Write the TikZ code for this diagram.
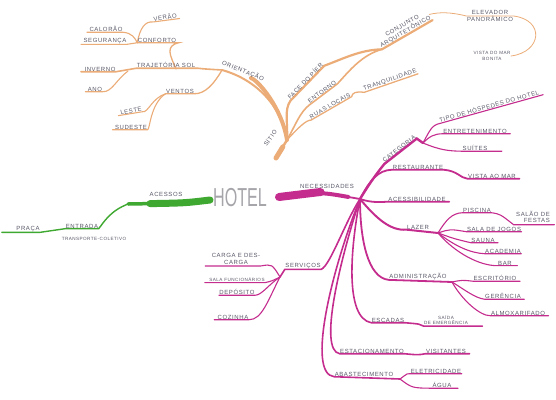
\documentclass[tikz,border=0pt]{standalone}
\usepackage{fontspec}
\setmainfont{Liberation Sans}
\newfontfamily\handf[LetterSpace=10]{Liberation Sans}
\definecolor{ora}{RGB}{235,172,120}
\definecolor{grn}{RGB}{62,168,48}
\definecolor{pnk}{RGB}{196,44,142}
\definecolor{ink}{RGB}{88,88,104}
\definecolor{hot}{RGB}{165,165,170}
\pgfdeclarelayer{bg}
\pgfsetlayers{bg,main}
\begin{document}
\begin{tikzpicture}[x=1pt,y=-1pt,
  lbl/.style={font=\handf\fontsize{6}{6.6}\selectfont, text=ink, inner sep=0.4pt, align=center},
  lbls/.style={font=\handf\fontsize{4.6}{5.2}\selectfont, text=ink, inner sep=0.4pt, align=center},
  ob/.style={draw=ora, line width=#1, line cap=round}, ob/.default=1.1,
  gb/.style={draw=grn, line width=#1, line cap=round}, gb/.default=1.2,
  pb/.style={draw=pnk, line width=#1, line cap=round}, pb/.default=1.1]
\useasboundingbox (0,0) rectangle (556,399);

% ---------- centre
\node[font=\fontsize{26}{26}\selectfont, text=hot, xscale=0.62, inner sep=0pt] (hotel) at (240,198) {HOTEL};

% ---------- orange (top)
\coordinate (ostart) at (276,158);
\coordinate (oj) at (287,140);
\coordinate (orj) at (222,70);
\coordinate (cfj) at (176,69);
\coordinate (anj) at (128,71);
\node[lbl,rotate=55] (sitio) at (270,138) {SÍTIO};
\node[lbl,rotate=-22] (ori) at (243,71) {ORIENTAÇÃO};
\node[lbl] (sol) at (166,65) {TRAJETÓRIA SOL};
\node[lbl] (inv) at (100,69) {INVERNO};
\node[lbl] (ano) at (95,89) {ANO};
\node[lbl] (conf) at (157,40) {CONFORTO};
\node[lbl] (calor) at (106,29) {CALORÃO};
\node[lbl] (seg) at (105,41) {SEGURANÇA};
\node[lbl,rotate=8] (verao) at (165,17) {VERÃO};
\node[lbl] (vent) at (180,91) {VENTOS};
\node[lbl,rotate=10] (leste) at (131,111) {LESTE};
\node[lbl] (sud) at (131,127) {SUDESTE};
\node[lbl,rotate=46] (face) at (305,81) {FACE DO PÍER};
\node[lbl,rotate=37] (ent) at (322,92) {ENTORNO};
\node[lbl,rotate=30] (ruas) at (330,106) {RUAS LOCAIS};
\node[lbl,rotate=19] (tranq) at (390,80) {TRANQUILIDADE};
\node[lbl,rotate=30] (arq) at (404,29) {CONJUNTO\\ARQUITETÔNICO};
\node[lbl] (elev) at (490,16) {ELEVADOR\\PANORÂMICO};
\node[lbls] (vista) at (492,56) {VISTA DO MAR\\BONITA};

% ---------- green (left)
\coordinate (gj) at (128,204);
\node[lbl] (aces) at (166,194) {ACESSOS};
\node[lbl] (entr) at (82,226) {ENTRADA};
\node[lbl] (praca) at (28,229) {PRAÇA};
\node[lbls] (transp) at (94,239) {TRANSPORTE-COLETIVO};

% ---------- pink (right)
\coordinate (pstart) at (279,197);
\coordinate (pj) at (360,199);
\coordinate (cj) at (423,143);
\coordinate (lj) at (438,233);
\coordinate (aj) at (452,282);
\coordinate (sj) at (280,277);
\coordinate (bj) at (400,379);
\node[lbl] (nec) at (327,186) {NECESSIDADES};
\node[lbl,rotate=38] (cat) at (399,149) {CATEGORIA};
\node[lbl,rotate=16] (tipo) at (489,106) {TIPO DE HÓSPEDES DO HOTEL};
\node[lbl] (entret) at (475,131) {ENTRETENIMENTO};
\node[lbl] (suites) at (475,148) {SUÍTES};
\node[lbl] (rest) at (418,167) {RESTAURANTE};
\node[lbl] (mar) at (492,176) {VISTA AO MAR};
\node[lbl] (acess) at (417,199) {ACESSIBILIDADE};
\node[lbl] (lazer) at (418,227) {LAZER};
\node[lbl] (pisc) at (477,210) {PISCINA};
\node[lbl, align=right] (salao) at (533,217) {SALÃO DE\\FESTAS};
\node[lbl] (sala) at (494,229) {SALA DE JOGOS};
\node[lbl] (sauna) at (483,240) {SAUNA};
\node[lbl] (acad) at (503,251) {ACADEMIA};
\node[lbl] (bar) at (505,263) {BAR};
\node[lbl] (adm) at (418,276) {ADMINISTRAÇÃO};
\node[lbl] (escr) at (495,278) {ESCRITÓRIO};
\node[lbl] (ger) at (503,296) {GERÊNCIA};
\node[lbl] (alm) at (518,313) {ALMOXARIFADO};
\node[lbl] (esc) at (388,320) {ESCADAS};
\node[lbls] (saida) at (446,320) {SAÍDA\\DE EMERGÊNCIA};
\node[lbl] (serv) at (303,266) {SERVIÇOS};
\node[lbl] (carga) at (236,259) {CARGA E DES-\\CARGA};
\node[lbls] (sfunc) at (237,280) {SALA FUNCIONÁRIOS};
\node[lbl] (dep) at (237,292) {DEPÓSITO};
\node[lbl] (coz) at (233,317) {COZINHA};
\node[lbl] (estac) at (372,351) {ESTACIONAMENTO};
\node[lbl] (visit) at (446,351) {VISITANTES};
\node[lbl] (abast) at (364,374) {ABASTECIMENTO};
\node[lbl] (elet) at (436,371) {ELETRICIDADE};
\node[lbl] (agua) at (442,385) {ÁGUA};

\begin{pgfonlayer}{bg}
% orange connectors
\draw[ob=5, shorten >=8pt] (ostart) -- (oj);
\draw[ob=2.5] (ostart) -- (oj);
\draw[ob=4, shorten >=30pt] (oj) .. controls (282,108) and (258,80) .. (orj);
\draw[ob=2] (oj) .. controls (282,108) and (258,80) .. (orj);
\draw[ob=1.6] (orj) .. controls (205,69) .. ([xshift=2pt]sol.south east) -- (sol.south west) -- (inv.south east) -- ([xshift=-3pt]inv.south west);
\draw[ob=1.3] (cfj) .. controls (170,55) and (165,46) .. ([xshift=2pt]conf.south east) -- (conf.south west);
\draw[ob] (conf.south west) .. controls (135,38) and (132,33) .. (calor.south east) -- ([xshift=-2pt]calor.south west);
\draw[ob] (conf.south west) -- (seg.south east) -- ([xshift=-2pt]seg.south west);
\draw[ob] (conf.south west) .. controls (140,28) and (145,21) .. (verao.south west) -- ([xshift=2pt]verao.south east);
\draw[ob] (anj) .. controls (116,80) and (112,92) .. (ano.south east) -- ([xshift=-2pt]ano.south west);
\draw[ob=1.3] (orj) .. controls (214,84) and (205,94) .. (vent.south east) -- (vent.south west);
\draw[ob] (vent.south west) .. controls (152,98) and (148,113) .. (leste.south east) -- ([xshift=-2pt]leste.south west);
\draw[ob] (vent.south west) .. controls (150,104) and (150,130) .. (sud.south east) -- ([xshift=-2pt]sud.south west);
\draw[ob=2.2] (oj) .. controls (288,122) and (284,110) .. (face.south west) -- (face.south east) .. controls (345,58) and (360,50) .. (arq.south west) -- (arq.south east);
\draw[ob=1.6] (oj) .. controls (296,124) and (300,112) .. (ent.south west) -- (ent.south east) .. controls (350,70) and (362,55) .. (arq.south west);
\draw[ob=1.3] (oj) .. controls (298,128) and (306,120) .. (ruas.south west) -- (ruas.south east) .. controls (352,93) and (356,91) .. (tranq.south west) -- (tranq.south east);
\draw[ob=0.8] (arq.east) .. controls (440,12) and (450,12) .. (elev.west) -- (elev.east) .. controls (545,20) and (542,52) .. (vista.east);
% green connectors
\draw[gb=7, shorten >=22pt] ([xshift=-3pt,yshift=-2pt]hotel.west) .. controls (185,203) .. (gj);
\draw[gb=3.5] ([xshift=-3pt,yshift=-2pt]hotel.west) .. controls (185,203) .. (gj);
\draw[gb=1.4] (gj) .. controls (110,211) and (104,222) .. (entr.south east) -- (entr.south west) .. controls (52,231) .. (praca.south east) -- ([xshift=-14pt]praca.south west);
% pink connectors
\draw[pb=8, shorten >=40pt] (pstart) .. controls (320,192) .. (pj);
\draw[pb=4, shorten >=12pt] (pstart) .. controls (320,192) .. (pj);
\draw[pb=1.8] (pstart) .. controls (320,192) .. (pj);
\draw[pb=2.4] (pj) .. controls (368,186) and (376,174) .. (cat.south west) -- (cat.south east) -- (cj);
\draw[pb] (cj) .. controls (430,130) and (432,125) .. (tipo.south west) -- ([xshift=3pt]tipo.south east);
\draw[pb] (cj) .. controls (430,136) and (434,134) .. (entret.south west) -- ([xshift=3pt]entret.south east);
\draw[pb] (cj) .. controls (440,150) and (448,151) .. (suites.south west) -- ([xshift=14pt]suites.south east);
\draw[pb=1.8] (pj) .. controls (370,180) and (378,170) .. (rest.south west) -- (rest.south east) .. controls (458,171) and (460,178) .. (mar.south west) -- ([xshift=3pt]mar.south east);
\draw[pb=1.8] (pj) .. controls (372,203) and (380,202) .. (acess.south west) -- ([xshift=3pt]acess.south east);
\draw[pb=2] (pj) .. controls (376,218) and (390,231) .. (lazer.south west) -- (lj);
\draw[pb] (lj) .. controls (446,220) and (452,213) .. (pisc.south west) -- (pisc.south east) .. controls (500,214) .. ([yshift=-1.8pt,xshift=-2pt]salao.base west) -- ([yshift=-1.8pt,xshift=4pt]salao.base east);
\draw[pb] (lj) .. controls (450,229) .. (sala.south west) -- (sala.south east);
\draw[pb] (lj) .. controls (455,239) .. (sauna.south west) -- ([xshift=3pt]sauna.south east);
\draw[pb] (lj) .. controls (455,246) and (470,253) .. (acad.south west) -- (acad.south east);
\draw[pb] (lj) .. controls (455,253) and (480,266) .. (bar.south west) -- ([xshift=5pt]bar.south east);
\draw[pb=1.8] (pj) .. controls (360,240) and (368,278) .. (adm.south west) -- (aj);
\draw[pb] (aj) .. controls (462,280) .. (escr.south west) -- ([xshift=3pt]escr.south east);
\draw[pb] (aj) .. controls (465,290) and (475,298) .. (ger.south west) -- ([xshift=3pt]ger.south east);
\draw[pb] (aj) .. controls (462,300) and (480,316) .. (alm.south west) -- ([xshift=3pt]alm.south east);
\draw[pb=1.6] (pj) .. controls (350,250) and (345,318) .. (esc.south west) -- (esc.south east) .. controls (420,324) .. ([yshift=-1.5pt]saida.base west) -- ([yshift=-1.5pt,xshift=14pt]saida.base east);
\draw[pb=1.6] (pj) .. controls (345,222) and (330,266) .. (serv.south east) -- (serv.south west) -- (sj);
\draw[pb] (sj) .. controls (272,264) .. ([yshift=-1.6pt]carga.base east) -- ([yshift=-1.6pt,xshift=-6pt]carga.base west);
\draw[pb] (sj) .. controls (272,281) .. (sfunc.south east) -- ([xshift=-4pt]sfunc.south west);
\draw[pb] (sj) .. controls (268,285) and (262,295) .. (dep.south east) -- (dep.south west);
\draw[pb] (sj) .. controls (268,300) and (262,320) .. (coz.south east) -- ([xshift=-3pt]coz.south west);
\draw[pb=1.6] (pj) .. controls (340,260) and (318,350) .. (estac.south west) -- (estac.south east) .. controls (418,355) .. (visit.south west) -- ([xshift=3pt]visit.south east);
\draw[pb=1.6] (pj) .. controls (332,268) and (306,374) .. (abast.south west) -- (bj);
\draw[pb] (bj) .. controls (408,373) .. (elet.south west) -- (elet.south east);
\draw[pb] (bj) .. controls (412,388) .. (agua.south west) -- ([xshift=6pt]agua.south east);
\end{pgfonlayer}
\end{tikzpicture}
\end{document}
